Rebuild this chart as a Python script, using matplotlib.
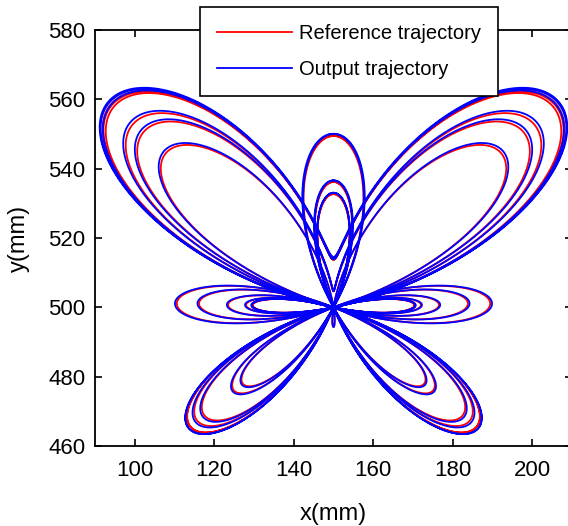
import numpy as np
import matplotlib
matplotlib.use('Agg')
import matplotlib.pyplot as plt

plt.rcParams['font.family'] = ['Liberation Sans', 'DejaVu Sans']

# reference trajectory: butterfly curve, centre and scale
centre_x = 150.0    # mm
centre_y = 500.0    # mm
scale = 20.0        # mm per unit
t_end = 12*np.pi
# tracking error of the output trajectory (small lag and overshoot)
out_lag = 0.01
out_gain = 1.012

xticks = [100, 120, 140, 160, 180, 200]
yticks = [460, 480, 500, 520, 540, 560, 580]
labels = ['Reference trajectory', 'Output trajectory']


def butterfly(t, gain=1.0):
    r = np.exp(np.cos(t)) - 2*np.cos(4*t) - np.sin(t/12)**5
    return (centre_x + gain*scale*np.sin(t)*r,
            centre_y + gain*scale*np.cos(t)*r)


t = np.linspace(0, t_end, 12000)
x_ref, y_ref = butterfly(t)
x_out, y_out = butterfly(t - out_lag, out_gain)

fig = plt.figure(figsize=(5.68, 5.26), dpi=100)
ax = fig.add_axes([95/568, 80/526, 477/568, 416/526])
l1, = ax.plot(x_ref, y_ref, color='#ff0000', lw=1.3)
l2, = ax.plot(x_out, y_out, color='#0000ff', lw=1.3)

ax.set_xlim(90, 210)
ax.set_ylim(460, 580)
ax.set_xticks(xticks)
ax.set_yticks(yticks)
ax.tick_params(direction='in', top=True, right=True, length=5, width=1.2,
               labelsize=16)
ax.tick_params(axis='x', pad=10)
ax.tick_params(axis='y', pad=7)
for s in ax.spines.values():
    s.set_linewidth(1.3)
ax.set_xlabel('x(mm)', fontsize=17, labelpad=16)
ax.set_ylabel('y(mm)', fontsize=17, labelpad=13)

leg = fig.legend([l1, l2], labels, loc='upper left',
                 bbox_to_anchor=(200/568, 1 - 7/526), borderaxespad=0,
                 fontsize=14.5, handlelength=3.7, handletextpad=0.35,
                 labelspacing=0.85, borderpad=0.85, fancybox=False,
                 framealpha=1, edgecolor='black')
leg.get_frame().set_linewidth(1.2)

fig.savefig('out.png', dpi=100)
